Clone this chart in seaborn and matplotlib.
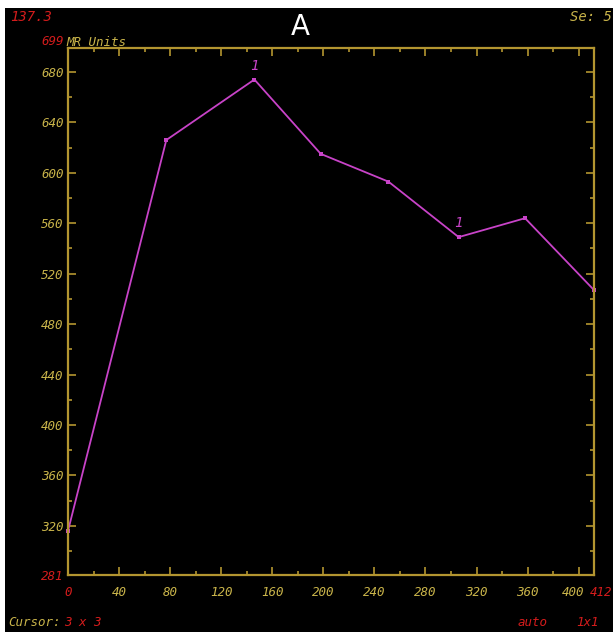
import matplotlib
matplotlib.use("Agg")
import matplotlib.pyplot as plt
import matplotlib.transforms as mtransforms
import seaborn as sns
import pandas as pd
from matplotlib.patches import Rectangle
from matplotlib.ticker import MultipleLocator

# ----------------------------------------------------------
# DATA
# ----------------------------------------------------------
time_s = [0, 77, 146, 198, 251, 306, 358, 412]
signal_mr = [316, 626, 674, 615, 593, 549, 564, 507]
x_ticks = [0, 40, 80, 120, 160, 200, 240, 280, 320, 360, 400, 412]
y_ticks = [281, 320, 360, 400, 440, 480, 520, 560, 600, 640, 680, 699]
label_points = [146, 306]          # points tagged with "1"

YELLOW = "#c9b44a"
RED = "#d41c1c"
MAGENTA = "#c843c8"
FRAME = "#b39530"
W, H = 613, 637
FS = 9

sns.set_theme(style="dark")
plt.rcParams["font.family"] = ["DejaVu Sans Mono", "DejaVu Sans"]

fig = plt.figure(figsize=(W / 100, H / 100), dpi=100, facecolor="white")
# black screen area (white border left/top/bottom)
fig.patches.append(Rectangle((5 / W, (H - 632) / H), (W - 5) / W, (632 - 8) / H,
                             transform=fig.transFigure, facecolor="black",
                             edgecolor="none", zorder=-5))

ax = fig.add_axes([68 / W, (H - 575) / H, (594 - 68) / W, (575 - 48) / H])
ax.set_facecolor("black")

df = pd.DataFrame({"t": time_s, "v": signal_mr})
sns.lineplot(data=df, x="t", y="v", ax=ax, color=MAGENTA, linewidth=1.3,
             marker="s", markersize=3.5, markeredgewidth=0, clip_on=False)

for xp in label_points:
    yp = signal_mr[time_s.index(xp)]
    ax.annotate("1", (xp, yp), xytext=(0, 5), textcoords="offset points",
                ha="center", va="bottom", color=MAGENTA, fontsize=10,
                style="italic")

ax.set_xlim(0, 412)
ax.set_ylim(281, 699)
ax.set_xlabel("")
ax.set_ylabel("")
ax.grid(False)

ax.set_xticks(x_ticks)
ax.set_xticklabels([str(v) for v in x_ticks])
ax.set_yticks(y_ticks)
ax.set_yticklabels([str(v) for v in y_ticks])
ax.xaxis.set_minor_locator(MultipleLocator(20))
ax.yaxis.set_minor_locator(MultipleLocator(20))

ax.tick_params(which="both", direction="in", color=FRAME, top=True, right=True,
               bottom=True, left=True, width=1.2, labelsize=FS, labelcolor=YELLOW)
ax.tick_params(which="major", length=6)
ax.tick_params(which="minor", length=3)
ax.tick_params(axis="x", pad=8)
ax.tick_params(axis="y", pad=3)

for lab in ax.get_xticklabels() + ax.get_yticklabels():
    lab.set_fontstyle("italic")
for lab, v in zip(ax.get_xticklabels(), x_ticks):
    if v in (0, 412):
        lab.set_color(RED)
    if v == 400:
        lab.set_horizontalalignment("right")
        lab.set_transform(lab.get_transform() + mtransforms.ScaledTranslation(
            6 / 100, 0, fig.dpi_scale_trans))
    if v == 412:
        lab.set_horizontalalignment("left")
        lab.set_transform(lab.get_transform() + mtransforms.ScaledTranslation(
            -4 / 100, 0, fig.dpi_scale_trans))
for lab, v in zip(ax.get_yticklabels(), y_ticks):
    if v in (281, 699):
        lab.set_color(RED)
    if v == 699:
        lab.set_verticalalignment("bottom")

for s in ax.spines.values():
    s.set_color(FRAME)
    s.set_linewidth(1.6)


def ftext(x, y, s, color, **kw):
    fig.text(x / W, 1 - y / H, s, color=color, fontsize=kw.pop("fontsize", FS),
             style=kw.pop("style", "italic"), va="center", **kw)


ftext(10, 17, "137.3", RED, fontsize=10)
ftext(300, 27, "A", "white", fontsize=20, style="normal", ha="center",
      family=["DejaVu Sans"])
ftext(612, 17, "Se: 5", YELLOW, ha="right", fontsize=10)
ftext(66, 43, "MR Units", YELLOW)
ftext(8, 622, "Cursor:", YELLOW)
ftext(64, 622, "3 x 3", RED)
ftext(518, 622, "auto", RED)
ftext(576, 622, "1x1", RED)

fig.savefig("out.png", dpi=100, facecolor="white")
